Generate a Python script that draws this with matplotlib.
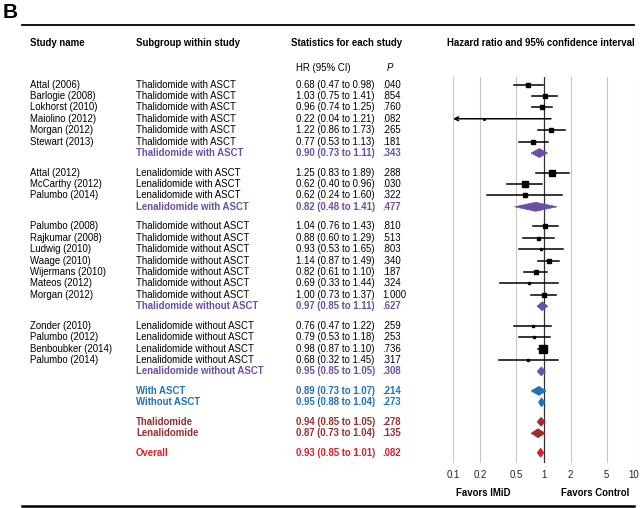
import numpy as np
import matplotlib
matplotlib.use('Agg')
import matplotlib.pyplot as plt
from matplotlib.patches import Polygon

plt.rcParams['font.family'] = ['Liberation Sans', 'DejaVu Sans']

# ---- dados ----
estudos = [
    ['Attal (2006)', 'Barlogie (2008)', 'Lokhorst (2010)', 'Maiolino (2012)', 'Morgan (2012)', 'Stewart (2013)'],
    ['Attal (2012)', 'McCarthy (2012)', 'Palumbo (2014)'],
    ['Palumbo (2008)', 'Rajkumar (2008)', 'Ludwig (2010)', 'Waage (2010)', 'Wijermans (2010)', 'Mateos (2012)', 'Morgan (2012)'],
    ['Zonder (2010)', 'Palumbo (2012)', 'Benboubker (2014)', 'Palumbo (2014)'],
]
subgrupos = ['Thalidomide with ASCT', 'Lenalidomide with ASCT',
             'Thalidomide without ASCT', 'Lenalidomide without ASCT']
hr = [[0.68, 1.03, 0.96, 0.22, 1.22, 0.77],
      [1.25, 0.62, 0.62],
      [1.04, 0.88, 0.93, 1.14, 0.82, 0.69, 1.00],
      [0.76, 0.79, 0.98, 0.68]]
ic_inf = [[0.47, 0.75, 0.74, 0.04, 0.86, 0.53],
          [0.83, 0.40, 0.24],
          [0.76, 0.60, 0.53, 0.87, 0.61, 0.33, 0.73],
          [0.47, 0.53, 0.87, 0.32]]
ic_sup = [[0.98, 1.41, 1.25, 1.21, 1.73, 1.13],
          [1.89, 0.96, 1.60],
          [1.43, 1.29, 1.65, 1.49, 1.10, 1.44, 1.37],
          [1.22, 1.18, 1.10, 1.45]]
p_val = [['.040', '.854', '.760', '.082', '.265', '.181'],
         ['.288', '.030', '.322'],
         ['.810', '.513', '.803', '.340', '.187', '.324', '1.000'],
         ['.259', '.253', '.736', '.317']]
# peso relativo (tamanho do quadrado)
pesos = [[4, 5, 5, 1.5, 5, 4],
         [6, 6.5, 3.5],
         [4, 3, 2, 4.5, 4, 2, 4],
         [2, 2.5, 8.5, 2]]

# resumos de cada subgrupo
res_hr = [0.90, 0.82, 0.97, 0.95]
res_inf = [0.73, 0.48, 0.85, 0.85]
res_sup = [1.11, 1.41, 1.11, 1.05]
res_p = ['.343', '.477', '.627', '.308']

# resumos gerais
geral_nomes = [['With ASCT', 'Without ASCT'], ['Thalidomide', 'Lenalidomide'], ['Overall']]
geral_hr = [[0.89, 0.95], [0.94, 0.87], [0.93]]
geral_inf = [[0.73, 0.88], [0.85, 0.73], [0.85]]
geral_sup = [[1.07, 1.04], [1.05, 1.04], [1.01]]
geral_p = [['.214', '.273'], ['.278', '.135'], ['.082']]

ticks = [0.1, 0.2, 0.5, 1, 2, 5, 10]
tick_labels = ['0.1', '0.2', '0.5', '1', '2', '5', '10']

# ---- cores ----
roxo = '#6b4ea6'
azul = '#2070bd'
bordo = '#9a2e2e'
vermelho = '#d3222c'
cores_geral = [azul, bordo, vermelho]

# ---- layout (em pixels) ----
W, H = 640, 508
fig = plt.figure(figsize=(W / 100, H / 100), dpi=100)
ax_top, ax_bot = 77, 463
x0, x1 = 453, 634
ax = fig.add_axes([x0 / W, 1 - ax_bot / H, (x1 - x0) / W, (ax_bot - ax_top) / H])
ax.set_xscale('log')
ax.set_xlim(0.1, 10)
ax.set_ylim(ax_bot, ax_top)
for s in ax.spines.values():
    s.set_visible(False)
ax.set_yticks([])
ax.set_xticks(ticks)
ax.set_xticklabels(tick_labels, fontsize=6.9, color='#222222')
ax.xaxis.set_minor_locator(matplotlib.ticker.NullLocator())
ax.tick_params(axis='x', length=0, pad=5)
for t in ticks:
    ax.axvline(t, color='#333333' if t == 1 else '#c8c8c8', lw=0.9 if t == 1 else 0.8, zorder=0)

fs = 6.9
linha = 11.42
espaco = 19.5


def ftext(x, y, s, **kw):
    kw.setdefault('fontsize', fs)
    kw.setdefault('va', 'center')
    fig.text(x / W, 1 - y / H, s, **kw)


def diamante(y, c, lo, hi, cor):
    h = 4.5
    ax.add_patch(Polygon([(lo, y), (c, y - h), (hi, y), (c, y + h)], closed=True,
                         facecolor=cor, edgecolor=cor, lw=0.5, zorder=3))


def hr_txt(c, lo, hi):
    return f'{c:.2f} ({lo:.2f} to {hi:.2f})'


# cabeçalho
ftext(3, 13, 'B', fontsize=15, fontweight='bold')
fig.add_artist(plt.Line2D([22 / W, 634 / W], [1 - 25 / H, 1 - 25 / H], color='black', lw=1.3))
fig.add_artist(plt.Line2D([22 / W, 634 / W], [1 - 506 / H, 1 - 506 / H], color='black', lw=1.8))
ftext(30, 43, 'Study name', fontweight='bold')
ftext(136, 43, 'Subgroup within study', fontweight='bold')
ftext(347, 43, 'Statistics for each study', fontweight='bold', ha='center')
ftext(541, 43, 'Hazard ratio and 95% confidence interval', fontweight='bold', ha='center')
ftext(296, 68, 'HR (95% CI)')
ftext(387, 68, 'P', style='italic')

# estudos individuais
y = 84.5
for g in range(len(estudos)):
    for i, nome in enumerate(estudos[g]):
        ftext(30, y, nome)
        ftext(136, y, subgrupos[g])
        ftext(296, y, hr_txt(hr[g][i], ic_inf[g][i], ic_sup[g][i]))
        ftext(382, y, p_val[g][i])
        lo = ic_inf[g][i]
        if lo < 0.1:
            ax.annotate('', xy=(0.1, y), xytext=(ic_sup[g][i], y),
                        arrowprops=dict(arrowstyle='->', lw=1.1, color='black',
                                        shrinkA=0, shrinkB=0, mutation_scale=7))
        else:
            ax.plot([lo, ic_sup[g][i]], [y, y], color='black', lw=1.1, zorder=2)
        ax.plot(hr[g][i], y, 's', color='black', ms=pesos[g][i] * 0.72, zorder=3)
        y += linha
    ftext(136, y, subgrupos[g], fontweight='bold', color=roxo)
    ftext(296, y, hr_txt(res_hr[g], res_inf[g], res_sup[g]), fontweight='bold', color=roxo)
    ftext(382, y, res_p[g], fontweight='bold', color=roxo)
    diamante(y, res_hr[g], res_inf[g], res_sup[g], roxo)
    y += espaco

for g in range(len(geral_nomes)):
    cor = cores_geral[g]
    for i, nome in enumerate(geral_nomes[g]):
        ftext(136, y, nome, fontweight='bold', color=cor)
        ftext(296, y, hr_txt(geral_hr[g][i], geral_inf[g][i], geral_sup[g][i]),
              fontweight='bold', color=cor)
        ftext(382, y, geral_p[g][i], fontweight='bold', color=cor)
        diamante(y, geral_hr[g][i], geral_inf[g][i], geral_sup[g][i], cor)
        y += linha
    y += espaco - linha

ftext(483, 493, 'Favors IMiD', fontweight='bold', ha='center')
ftext(595, 493, 'Favors Control', fontweight='bold', ha='center')

plt.savefig('out.png', dpi=100)
